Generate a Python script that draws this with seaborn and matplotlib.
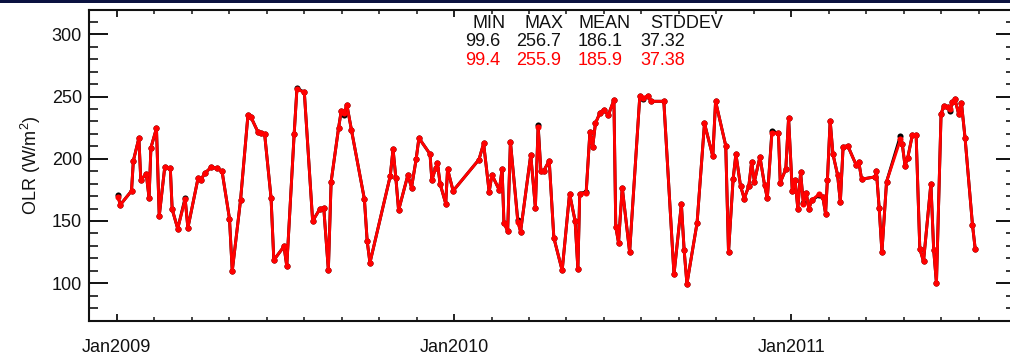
import numpy as np
import pandas as pd
import matplotlib
matplotlib.use("Agg")
import matplotlib.pyplot as plt
import matplotlib.dates as mdates
from matplotlib.ticker import FixedLocator, MultipleLocator
from matplotlib.patches import Rectangle
import seaborn as sns

# ---------------- data ----------------
dates = [
    "2009-01-02", "2009-01-05", "2009-01-17", "2009-01-19", "2009-01-25", "2009-01-27",
    "2009-02-02", "2009-02-05", "2009-02-07", "2009-02-13", "2009-02-16", "2009-02-22",
    "2009-02-28", "2009-03-02", "2009-03-08", "2009-03-16", "2009-03-19", "2009-03-30",
    "2009-04-02", "2009-04-06", "2009-04-13", "2009-04-19", "2009-04-25", "2009-05-03",
    "2009-05-06", "2009-05-15", "2009-05-23", "2009-05-26", "2009-06-03", "2009-06-06",
    "2009-06-10", "2009-06-17", "2009-06-20", "2009-07-01", "2009-07-04", "2009-07-12",
    "2009-07-15", "2009-07-23", "2009-08-01", "2009-08-09", "2009-08-13", "2009-08-18",
    "2009-08-21", "2009-08-29", "2009-09-01", "2009-09-04", "2009-09-07", "2009-09-12",
    "2009-09-26", "2009-09-29", "2009-10-02", "2009-10-24", "2009-10-27", "2009-10-30",
    "2009-11-02", "2009-11-12", "2009-11-16", "2009-11-21", "2009-11-24", "2009-12-06",
    "2009-12-08", "2009-12-12", "2009-12-14", "2009-12-17", "2009-12-23", "2009-12-25",
    "2009-12-31", "2010-01-28", "2010-02-02", "2010-02-08", "2010-02-11", "2010-02-19",
    "2010-02-22", "2010-02-24", "2010-02-28", "2010-03-03", "2010-03-11", "2010-03-14",
    "2010-03-25", "2010-03-30", "2010-04-02", "2010-04-05", "2010-04-08", "2010-04-14",
    "2010-04-19", "2010-04-28", "2010-05-06", "2010-05-12", "2010-05-15", "2010-05-17",
    "2010-05-24", "2010-05-28", "2010-05-31", "2010-06-03", "2010-06-08", "2010-06-12",
    "2010-06-17", "2010-06-23", "2010-06-25", "2010-06-28", "2010-07-02", "2010-07-10",
    "2010-07-21", "2010-07-25", "2010-07-30", "2010-08-02", "2010-08-16", "2010-08-27",
    "2010-09-04", "2010-09-07", "2010-09-10", "2010-09-21", "2010-09-29", "2010-10-08",
    "2010-10-11", "2010-10-22", "2010-10-25", "2010-10-30", "2010-11-02", "2010-11-07",
    "2010-11-11", "2010-11-16", "2010-11-19", "2010-11-22", "2010-11-28", "2010-12-03",
    "2010-12-06", "2010-12-11", "2010-12-18", "2010-12-20", "2010-12-26", "2010-12-29",
    "2011-01-02", "2011-01-05", "2011-01-08", "2011-01-11", "2011-01-14", "2011-01-17",
    "2011-01-20", "2011-01-23", "2011-01-31", "2011-02-04", "2011-02-07", "2011-02-09",
    "2011-02-12", "2011-02-15", "2011-02-20", "2011-02-23", "2011-02-26", "2011-03-03",
    "2011-03-12", "2011-03-15", "2011-03-18", "2011-04-02", "2011-04-03", "2011-04-06",
    "2011-04-09", "2011-04-14", "2011-04-29", "2011-05-01", "2011-05-04", "2011-05-07",
    "2011-05-12", "2011-05-16", "2011-05-20", "2011-05-24", "2011-06-01", "2011-06-04",
    "2011-06-07", "2011-06-12", "2011-06-15", "2011-06-19", "2011-06-22", "2011-06-24",
    "2011-06-27", "2011-07-01", "2011-07-04", "2011-07-08", "2011-07-16", "2011-07-19",
]

olr_red = [
    169.6, 163.1, 174.2, 198.4, 216.7, 183.3, 187.6, 168.5, 208.9, 224.5, 154.0, 193.5,
    192.2, 159.4, 143.8, 167.5, 144.4, 184.4, 182.8, 188.2, 193.0, 192.5, 189.8, 151.9,
    109.7, 166.9, 235.2, 233.9, 221.2, 220.7, 220.2, 168.5, 118.5, 129.6, 113.7, 219.9,
    255.9, 253.5, 150.0, 159.9, 160.7, 110.5, 181.5, 224.5, 238.7, 237.0, 243.5, 223.1,
    167.5, 133.9, 116.4, 186.3, 207.8, 184.9, 158.6, 186.8, 176.9, 199.7, 216.7, 203.8,
    182.8, 192.5, 196.5, 179.6, 164.0, 191.7, 174.2, 199.4, 212.3, 173.4, 187.1, 174.8,
    191.7, 148.6, 141.9, 213.7, 149.2, 141.4, 203.2, 160.7, 225.5, 189.8, 190.3, 198.4,
    136.5, 110.2, 172.0, 150.0, 111.5, 172.0, 172.8, 221.2, 209.7, 228.5, 237.1, 239.3,
    235.2, 247.3, 145.4, 132.5, 176.9, 125.0, 250.2, 249.0, 250.8, 246.2, 246.2, 107.0,
    163.5, 126.4, 99.4, 148.6, 228.5, 201.9, 246.2, 210.5, 125.0, 183.9, 203.8, 178.2,
    168.0, 178.2, 197.3, 181.7, 201.6, 178.8, 168.3, 221.0, 220.4, 180.9, 191.7, 232.8,
    174.2, 183.3, 159.9, 189.0, 163.5, 172.8, 159.9, 166.7, 171.5, 169.4, 155.9, 182.8,
    230.6, 203.8, 187.1, 165.3, 209.7, 210.5, 195.2, 197.3, 183.6, 185.5, 190.1, 160.7,
    125.0, 181.5, 215.5, 211.9, 194.4, 201.0, 219.4, 219.4, 127.7, 117.5, 180.1, 126.9,
    100.0, 236.0, 242.7, 241.9, 240.0, 245.4, 248.1, 236.0, 245.2, 216.4, 146.8, 127.2,
]

olr_black = [
    170.5, 163.1, 174.2, 198.4, 216.7, 183.3, 187.6, 168.5, 208.9, 224.5, 154.0, 193.5,
    192.2, 159.4, 143.8, 168.5, 144.4, 184.4, 182.8, 188.2, 193.0, 192.5, 189.8, 151.9,
    109.7, 166.9, 235.2, 233.9, 221.2, 220.7, 220.2, 168.5, 118.5, 129.6, 113.7, 219.9,
    256.7, 253.5, 150.0, 159.9, 160.7, 110.5, 181.5, 224.5, 238.7, 235.5, 243.5, 223.1,
    167.5, 133.9, 116.4, 186.3, 207.8, 184.9, 158.6, 186.8, 176.9, 199.7, 216.7, 203.8,
    182.8, 192.5, 196.5, 179.6, 164.0, 191.7, 174.2, 199.4, 212.3, 173.4, 187.1, 174.8,
    191.7, 148.6, 141.9, 213.7, 150.5, 141.4, 203.2, 160.7, 227.3, 189.8, 190.3, 198.4,
    136.5, 110.2, 172.0, 150.0, 111.5, 172.0, 173.5, 221.2, 209.7, 228.5, 237.1, 239.3,
    235.2, 247.3, 145.4, 132.5, 176.9, 125.0, 250.2, 248.0, 250.8, 246.2, 246.2, 107.0,
    163.5, 126.4, 99.6, 148.6, 228.5, 201.9, 246.2, 210.5, 125.0, 183.9, 203.8, 178.2,
    168.0, 178.2, 197.3, 181.7, 201.6, 178.8, 168.3, 222.6, 220.4, 180.9, 191.7, 232.8,
    174.2, 183.3, 159.9, 189.0, 164.5, 172.8, 159.9, 166.7, 170.5, 169.4, 155.9, 182.8,
    230.6, 203.8, 187.1, 165.3, 209.7, 210.5, 195.2, 197.3, 183.6, 185.5, 190.1, 160.7,
    125.0, 181.5, 218.5, 211.9, 194.4, 201.0, 219.4, 219.4, 127.7, 117.5, 180.1, 126.9,
    100.0, 236.0, 242.7, 241.9, 238.5, 245.4, 248.1, 236.0, 245.2, 216.4, 146.8, 127.2,
]

stat_headers = ["MIN", "MAX", "MEAN", "STDDEV"]
stats_black = ["99.6", "256.7", "186.1", "37.32"]
stats_red = ["99.4", "255.9", "185.9", "37.38"]

major_dates = ["2009-01-01", "2010-01-01", "2011-01-01"]
y_label = "OLR (W/m$^2$)"

# ---------------- figure ----------------
sns.set_theme(style="white")
plt.rcParams["font.family"] = ["Liberation Sans", "DejaVu Sans"]
plt.rcParams["mathtext.fontset"] = "custom"
plt.rcParams["mathtext.rm"] = "Liberation Sans"
plt.rcParams["mathtext.it"] = "Liberation Sans"

W, H = 1010, 357
fig = plt.figure(figsize=(W / 100, H / 100), dpi=100)
fig.patch.set_facecolor("white")

left_px, right_px, top_px, bot_px = 89, 1015, 9.5, 320.5
ax = fig.add_axes([left_px / W, 1 - bot_px / H, (right_px - left_px) / W, (bot_px - top_px) / H])
ax.set_facecolor("white")

df = pd.DataFrame({
    "date": pd.to_datetime(dates),
    "black": olr_black,
    "red": olr_red,
})

sns.lineplot(data=df, x="date", y="black", ax=ax, color="black", linewidth=2.1,
             marker="o", markersize=4.4, markeredgewidth=0, estimator=None, sort=False)
sns.lineplot(data=df, x="date", y="red", ax=ax, color="#ff0000", linewidth=2.1,
             marker="o", markersize=4.4, markeredgewidth=0, estimator=None, sort=False)

ax.set_ylim(70, 320)
ax.set_xlim(pd.Timestamp("2008-12-02"), pd.Timestamp("2011-08-31"))

# axes ticks
majors = [mdates.date2num(pd.Timestamp(d)) for d in major_dates]
step = 365.0 / 9.0
x0 = majors[0]
minors = [x0 + k * step for k in range(0, 24)]
ax.xaxis.set_major_locator(FixedLocator(majors))
ax.xaxis.set_minor_locator(FixedLocator(minors))
ax.xaxis.set_major_formatter(mdates.DateFormatter("%b%Y"))
ax.yaxis.set_major_locator(MultipleLocator(50))
ax.yaxis.set_minor_locator(MultipleLocator(10))

ax.tick_params(axis="x", which="major", direction="in", length=5, width=1.3,
               top=True, bottom=True, labelsize=13, pad=13, colors="#111111")
ax.tick_params(axis="x", which="minor", direction="in", length=3, width=1.2,
               top=True, bottom=True)
ax.tick_params(axis="y", which="major", direction="in", length=14, width=1.4,
               left=True, right=True, labelsize=13, pad=5, colors="#111111")
ax.tick_params(axis="y", which="minor", direction="in", length=6.5, width=1.3,
               left=True, right=True)
for s in ax.spines.values():
    s.set_linewidth(1.5)
    s.set_color("#111111")

ax.set_xlabel("")
ax.set_ylabel(y_label, fontsize=13, color="#111111", labelpad=6)

# stats table
header_x = [472, 525, 579, 650]
value_x = [465, 516, 578, 640]
for hx, h in zip(header_x, stat_headers):
    fig.text(hx / W, 1 - 23 / H, h, ha="left", va="center", fontsize=13, color="#111111")
for vx, v in zip(value_x, stats_black):
    fig.text(vx / W, 1 - 42 / H, v, ha="left", va="center", fontsize=13, color="#111111")
for vx, v in zip(value_x, stats_red):
    fig.text(vx / W, 1 - 60.5 / H, v, ha="left", va="center", fontsize=13, color="#ff0000")

# dark strip along the top of the screenshot
fig.patches.append(Rectangle((0, 1 - 2.5 / H), 1, 2.5 / H, transform=fig.transFigure,
                             facecolor="#0b1240", edgecolor="none", zorder=10))

fig.savefig("out.png", dpi=100, facecolor="white")
